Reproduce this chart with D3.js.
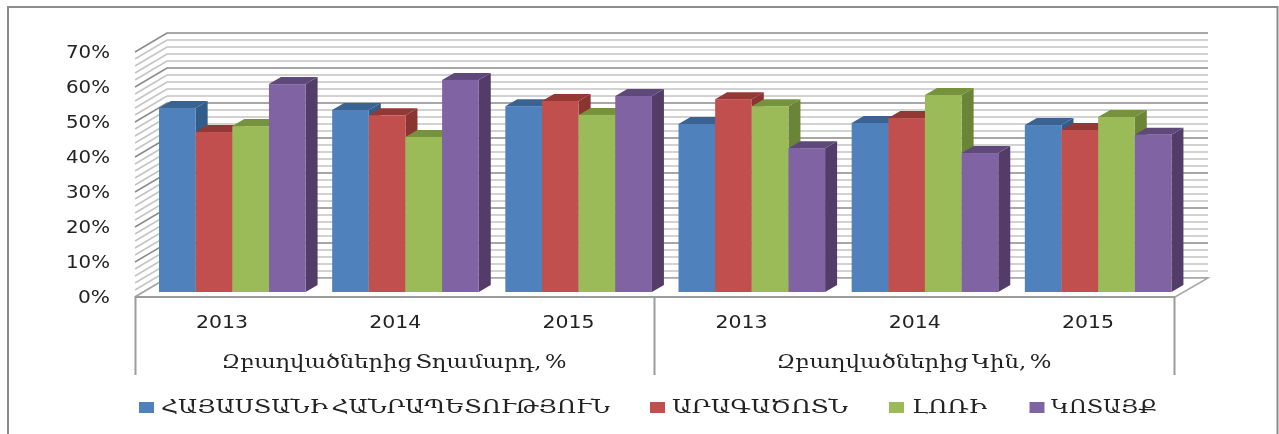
<!DOCTYPE html>
<html><head><meta charset="utf-8">
<style>html,body{margin:0;padding:0;background:#fff;overflow:hidden}svg{display:block}</style>
<script src="https://cdn.jsdelivr.net/npm/d3@7/dist/d3.min.js"></script></head>
<body><svg id="c" width="1279" height="434"></svg>
<script>
const years = ["2013","2014","2015","2013","2014","2015"];
const groups = ["Զբաղվածներից Տղամարդ, %","Զբաղվածներից Կին, %"];
const seriesNames = ["ՀԱՅԱՍՏԱՆԻ ՀԱՆՐԱՊԵՏՈՒԹՅՈՒՆ","ԱՐԱԳԱԾՈՏՆ","ԼՈՌԻ","ԿՈՏԱՅՔ"];
const armenia = [52.6,52.0,53.1,48.0,48.3,47.7];
const aragatsotn = [45.7,50.5,54.6,55.1,49.7,46.3];
const lori = [47.4,44.3,50.6,53.1,56.3,50.0];
const kotayk = [59.4,60.6,56.0,41.1,39.7,44.9];
const tickValues = [0,10,20,30,40,50,60,70];
const series = [armenia,aragatsotn,lori,kotayk];
const front = ["#4f81bd","#c0504d","#9bbb59","#8064a2"];
const topC = ["#3a6392","#943735","#76923c","#5f497a"];
const side = ["#335b8a","#8a3432","#6a8437","#533e68"];

const svg = d3.select("#c");
const defs = svg.append("defs");
defs.append("filter").attr("id","soft").attr("filterUnits","userSpaceOnUse").attr("x",0).attr("y",0).attr("width",1279).attr("height",434)
  .append("feGaussianBlur").attr("stdDeviation",0.5);
const root = svg.append("g").attr("filter","url(#soft)");

// frame
root.append("path").attr("d","M8,440V7H1277.5V440").attr("fill","none").attr("stroke","#8c8c8c").attr("stroke-width",2);

const y = d3.scaleLinear().domain([0,70]).range([297,52]);
const dx = 32, dy = -19;
const x0 = d3.scaleBand().domain(d3.range(6)).range([135.5,1174.5]);
const x1 = d3.scaleBand().domain(d3.range(4)).range([0,146.6]);
const groupOffset = 23.5, barLift = 5, bdx = 12, bdy = -7;

// gridlines
const grid = root.append("g");
d3.range(0,71,2).forEach(v=>{
  const major = v%10===0, c = major?"#8a8a8a":"#c4c4c4", w = major?1.5:1.6;
  const yy=y(v);
  grid.append("path").attr("d",`M135,${yy}L${135+dx},${yy+dy}H1208`).attr("fill","none").attr("stroke",c).attr("stroke-width",w);
});
// floor
root.append("path").attr("d",`M135,297L${135+dx},278H1208L1175,297`).attr("fill","#fff").attr("stroke","#a8a8a8").attr("stroke-width",1.5);

// bars
const bars = root.append("g");
years.forEach((yr,g)=>{
  series.forEach((s,i)=>{
    const l = x0(g)+groupOffset+x1(i), w = x1.bandwidth();
    const t = y(s[g])-barLift, b = y(0)-barLift;
    const r = l+w;
    bars.append("polygon").attr("points",[[r,t],[r+bdx,t+bdy],[r+bdx,b+bdy],[r,b]].join(" ")).attr("fill",side[i]);
    bars.append("polygon").attr("points",[[l,t],[l+bdx,t+bdy],[r+bdx,t+bdy],[r,t]].join(" ")).attr("fill",topC[i]);
    bars.append("rect").attr("x",l).attr("y",t).attr("width",w).attr("height",b-t).attr("fill",front[i]);
  });
});

// axis frame
root.append("path").attr("d","M135.5,375V297H1174.5V375M654.5,297V375").attr("fill","none").attr("stroke","#9c9c9c").attr("stroke-width",2);

const sans = "'DejaVu Sans'", serif = "'DejaVu Serif','DejaVu Sans'";
function txt(x,yy,s,font,size,len,anchor){
  return root.append("text").attr("x",x).attr("y",yy).attr("font-family",font).attr("font-size",size)
    .attr("fill","#222").attr("text-anchor",anchor||"middle").attr("word-spacing",-3)
    .attr("textLength",len).attr("lengthAdjust","spacingAndGlyphs").text(s);
}
tickValues.forEach(v=>txt(110,y(v)+6,v+"%",sans,17,v?44:32,"end"));
years.forEach((yr,g)=>txt(x0(g)+x0.bandwidth()/2,328,yr,sans,17,52));
txt(394,368,groups[0],serif,18,345);
txt(914,368,groups[1],serif,18,275);

const lx=[139,650,889,1029.5], tx=[161,672,912,1051], tl=[449,176,75,106];
seriesNames.forEach((n,i)=>{
  root.append("rect").attr("x",lx[i]).attr("y",402).attr("width",15).attr("height",11).attr("fill",front[i]);
  txt(tx[i],413,n,serif,18,tl[i],"start");
});
</script></body></html>
